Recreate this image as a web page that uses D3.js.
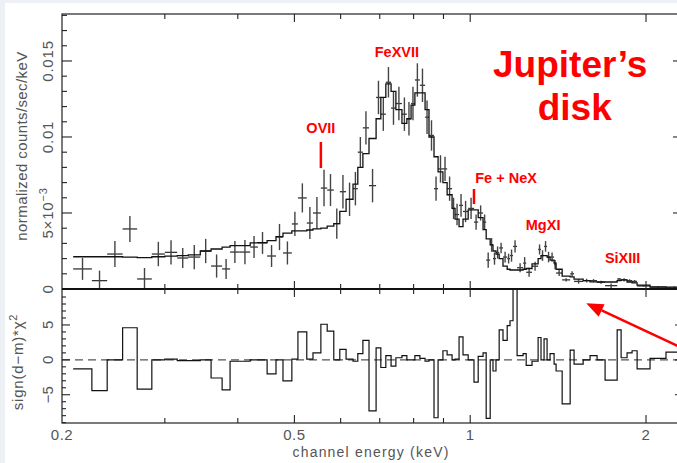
<!DOCTYPE html>
<html>
<head>
<meta charset="utf-8">
<script src="https://cdn.jsdelivr.net/npm/d3@7"></script>
<style>
body { margin: 0; background: #fff; }
text { font-family: "Liberation Sans", Arial, sans-serif; }
</style>
</head>
<body>
<script>
// channel bin edges (keV)
var binEdges = [0.209, 0.225, 0.239, 0.254, 0.269, 0.285, 0.300, 0.315, 0.329, 0.345,
  0.360, 0.376, 0.388, 0.403, 0.420, 0.433, 0.449, 0.465, 0.478, 0.495,
  0.507, 0.525, 0.538, 0.555, 0.569, 0.584, 0.598, 0.613, 0.630, 0.642,
  0.655, 0.671, 0.690, 0.703, 0.717, 0.732, 0.746, 0.764, 0.779, 0.792,
  0.804, 0.820, 0.837, 0.850, 0.867, 0.881, 0.898, 0.913, 0.931, 0.942,
  0.957, 0.972, 0.992, 1.015, 1.032, 1.052, 1.065, 1.082, 1.094, 1.107,
  1.121, 1.138, 1.157, 1.170, 1.184, 1.203, 1.232, 1.247, 1.276, 1.307,
  1.322, 1.338, 1.354, 1.370, 1.392, 1.403, 1.437, 1.483, 1.506, 1.561,
  1.604, 1.649, 1.702, 1.785, 1.813, 1.856, 1.893, 1.931, 2.032, 2.164, 2.314];

// normalized counts/sec/keV, in units of 1e-3
var rate = [1.32, 0.55, 2.30, 3.95, 0.66, 2.30, 2.41, 2.04, 2.10, 2.50,
  1.51, 1.32, 2.43, 2.43, 2.76, 3.03, 2.17, 3.42, 2.37, 4.28,
  5.99, 4.34, 5.00, 6.64, 6.51, 4.30, 6.40, 5.90, 6.60, 9.00,
  10.6, 6.80, 12.6, 11.5, 13.6, 11.9, 12.2, 11.5, 11.2, 12.2,
  13.75, 13.4, 11.3, 10.1, 6.6, 7.9, 7.9, 6.6, 5.3, 4.9,
  5.5, 5.1, 5.3, 4.4, 5.0, 4.4, 1.9, 2.9, 2.0, 2.4,
  2.7, 2.1, 2.0, 2.2, 2.8, 1.4, 1.7, 1.1, 1.5, 2.6,
  2.2, 2.8, 2.1, 2.1, 1.6, 1.05, 0.6, 1.0, 0.5, 0.55,
  0.55, 0.45, 0.22, 0.66, 0.6, 0.55, 0.5, 0.2, 0.14, 0.13];

var rateErr = [0.72, 0.66, 0.86, 0.86, 0.72, 0.80, 0.80, 0.66, 0.80, 0.80,
  0.76, 0.66, 0.72, 0.80, 0.72, 0.72, 0.72, 0.86, 0.76, 0.80,
  0.96, 1.05, 1.05, 1.20, 1.05, 1.00, 1.10, 1.10, 1.10, 1.00,
  1.10, 1.10, 1.10, 1.10, 1.00, 1.10, 1.10, 1.10, 1.10, 1.10,
  1.10, 1.10, 1.10, 1.00, 0.80, 0.90, 0.80, 0.80, 0.70, 0.70,
  0.75, 0.70, 0.70, 0.50, 0.50, 0.50, 0.50, 0.45, 0.40, 0.40,
  0.35, 0.35, 0.32, 0.40, 0.40, 0.30, 0.40, 0.30, 0.30, 0.33,
  0.35, 0.35, 0.35, 0.30, 0.30, 0.20, 0.10, 0.17, 0.15, 0.12,
  0.10, 0.10, 0.15, 0.06, 0.10, 0.09, 0.09, 0.05, 0.05, 0.05];

var model = [2.12, 2.12, 2.12, 2.10, 2.06, 2.12, 2.16, 2.20, 2.24, 2.50,
  2.63, 2.76, 2.85, 2.85, 3.03, 3.05, 3.18, 3.44, 3.68, 3.82,
  3.82, 3.88, 3.95, 4.01, 4.14, 4.30, 5.10, 5.90, 6.90, 8.00,
  8.90, 9.90, 11.2, 12.6, 13.5, 13.0, 11.8, 10.9, 11.2, 12.1,
  12.9, 12.9, 11.8, 10.0, 8.7, 7.7, 7.0, 6.2, 5.3, 4.6,
  4.1, 4.6, 5.2, 5.2, 4.7, 3.9, 3.3, 2.9, 2.5, 2.3,
  2.0, 1.5, 1.3, 1.25, 1.25, 1.25, 1.30, 1.35, 1.65, 2.00,
  2.20, 2.20, 2.10, 1.90, 1.70, 1.30, 0.85, 0.80, 0.65, 0.55,
  0.47, 0.46, 0.46, 0.55, 0.60, 0.46, 0.40, 0.25, 0.12, 0.08];

// sign(d-m)*chi^2
var resid = [-1.3, -4.4, 0, 4.6, -4.2, 0, 0.1, -0.1, -0.1, 0,
  -2.6, -4.3, -0.2, -0.2, 0, 0, -2.0, 0, -3.0, 0.1,
  4.0, 0.1, 1.0, 5.1, 4.1, 0, 1.5, 0.1, -0.2, 0.9,
  2.8, -7.3, 1.7, -1.1, 0.6, -0.9, 0.3, 0.6, 0, 0,
  0.6, 0.2, -0.2, 0, -8.3, 0, 1.3, 0.7, 0, 0.1,
  3.3, 0.7, 0, -3.2, 0.5, 1.0, -8.4, 0, -1.6, 0,
  4.3, 2.8, 4.9, 5.6, 14, 0.6, 0.9, -0.8, -0.2, 3.2,
  0, 3.0, 0, 0.9, -0.6, -1.6, -6.3, 1.4, -0.6, 0,
  0.6, 0, -2.9, 4.3, 0.3, 1.0, 1.3, -1.3, 0.2, 1.1];

var xMajor = [0.2, 0.5, 1, 2];
var xMinor = [0.3, 0.4, 0.6, 0.7, 0.8, 0.9];
var xLabels = ["0.2", "0.5", "1", "2"];
var yMajor = [0, 5, 10, 15];
var yLabels = ["0", "5×10", "0.01", "0.015"];
var rMajor = [-5, 0, 5];
var rLabels = ["−5", "0", "5"];

// line annotations: label position (energy, rate) and marker line
var lines = [
  { label: "OVII", e: 0.555, ty: 10.26, y0: 9.67, y1: 7.96 },
  { label: "FeXVII", e: 0.749, ty: 15.26 },
  { label: "Fe + NeX", e: 1.152, ty: 6.97, le: 1.015, y0: 6.58, y1: 5.59 },
  { label: "MgXI", e: 1.333, ty: 3.88 },
  { label: "SiXIII", e: 1.824, ty: 1.71 }
];

var width = 677, height = 463;
var L = 62, R = 683, T = 14, M = 289, B = 423;

var x = d3.scaleLog().domain([0.2, 2.314]).range([L, R]);
var y = d3.scaleLinear().domain([0, 18.09]).range([M, T]);
var yr = d3.scaleLinear().domain([-9.05, 10.15]).range([B, M]);

var svg = d3.select("body").append("svg")
  .attr("width", width)
  .attr("height", height);

svg.append("rect").attr("width", width).attr("height", height).attr("fill", "#edf1f6");
svg.append("rect").attr("x", 5).attr("y", 3).attr("width", width).attr("height", height).attr("fill", "#fff");

var defs = svg.append("defs");
defs.append("clipPath").attr("id", "clipTop").append("rect")
  .attr("x", L).attr("y", T).attr("width", R - L).attr("height", M - T);
defs.append("clipPath").attr("id", "clipBot").append("rect")
  .attr("x", L).attr("y", M).attr("width", R - L).attr("height", B - M);

var ink = "#222";

// ---- top panel: data crosses and model
var bins = rate.map(function (v, i) {
  return { lo: binEdges[i], hi: binEdges[i + 1], v: v, err: rateErr[i], m: model[i], r: resid[i] };
});

var topG = svg.append("g").attr("clip-path", "url(#clipTop)");

topG.selectAll(".hbar").data(bins).enter().append("line")
  .attr("x1", function (d) { return x(d.lo); })
  .attr("x2", function (d) { return x(d.hi); })
  .attr("y1", function (d) { return y(d.v); })
  .attr("y2", function (d) { return y(d.v); })
  .attr("stroke", "#333").attr("stroke-width", 1.3);

topG.selectAll(".vbar").data(bins).enter().append("line")
  .attr("x1", function (d) { return x(Math.sqrt(d.lo * d.hi)); })
  .attr("x2", function (d) { return x(Math.sqrt(d.lo * d.hi)); })
  .attr("y1", function (d) { return y(d.v - d.err); })
  .attr("y2", function (d) { return y(d.v + d.err); })
  .attr("stroke", "#444").attr("stroke-width", 1.4);

var stepTop = d3.line()
  .x(function (d) { return x(d[0]); })
  .y(function (d) { return y(d[1]); })
  .curve(d3.curveStepAfter);

var modelPts = bins.map(function (d) { return [d.lo, d.m]; });
modelPts.push([bins[bins.length - 1].hi, bins[bins.length - 1].m]);

topG.append("path").attr("d", stepTop(modelPts))
  .attr("fill", "none").attr("stroke", "#111").attr("stroke-width", 1.3);

// ---- bottom panel: residuals
var botG = svg.append("g").attr("clip-path", "url(#clipBot)");

botG.append("line")
  .attr("x1", L).attr("x2", R).attr("y1", yr(0)).attr("y2", yr(0))
  .attr("stroke", "#555").attr("stroke-width", 1.3).attr("stroke-dasharray", "8,5");

var stepRes = d3.line()
  .x(function (d) { return x(d[0]); })
  .y(function (d) { return yr(d[1]); })
  .curve(d3.curveStepAfter);

var resPts = bins.map(function (d) { return [d.lo, d.r]; });
resPts.push([bins[bins.length - 1].hi, bins[bins.length - 1].r]);

botG.append("path").attr("d", stepRes(resPts))
  .attr("fill", "none").attr("stroke", "#111").attr("stroke-width", 1.2);

// ---- frames and ticks
svg.append("rect").attr("x", L).attr("y", T).attr("width", R - L).attr("height", B - T)
  .attr("fill", "none").attr("stroke", ink).attr("stroke-width", 1.2);
svg.append("line").attr("x1", L).attr("x2", R).attr("y1", M).attr("y2", M)
  .attr("stroke", "#111").attr("stroke-width", 2.2);

var ticks = svg.append("g").attr("stroke", ink).attr("stroke-width", 1.1);

function xTicks(vals, len) {
  [[T, 1], [M, -1], [M, 1], [B, -1]].forEach(function (p) {
    ticks.selectAll(null).data(vals).enter().append("line")
      .attr("x1", function (d) { return x(d); })
      .attr("x2", function (d) { return x(d); })
      .attr("y1", p[0]).attr("y2", p[0] + p[1] * len);
  });
}
xTicks(xMajor.slice(1), 8);
xTicks(xMinor, 5);

function yTicks(scale, vals, len) {
  ticks.selectAll(null).data(vals).enter().append("line")
    .attr("x1", L).attr("x2", L + len)
    .attr("y1", function (d) { return scale(d); })
    .attr("y2", function (d) { return scale(d); });
  ticks.selectAll(null).data(vals).enter().append("line")
    .attr("x1", R).attr("x2", R - len)
    .attr("y1", function (d) { return scale(d); })
    .attr("y2", function (d) { return scale(d); });
}
yTicks(y, yMajor.slice(1), 10);
yTicks(y, d3.range(1, 19).filter(function (v) { return v % 5 !== 0; }), 5);
yTicks(yr, rMajor, 8);
yTicks(yr, d3.range(-9, 11).filter(function (v) { return v % 5 !== 0; }), 4);

// ---- tick labels and axis titles
var lab = svg.append("g").attr("fill", "#555").attr("font-size", 15);

lab.selectAll(null).data(xMajor).enter().append("text")
  .attr("x", function (d) { return x(d); })
  .attr("y", 440)
  .attr("text-anchor", "middle")
  .attr("letter-spacing", 0.5)
  .text(function (d, i) { return xLabels[i]; });

lab.append("text").attr("x", 371).attr("y", 457).attr("text-anchor", "middle")
  .attr("font-size", 14).attr("letter-spacing", 1.2)
  .text("channel energy (keV)");

var yl = lab.selectAll(null).data(yMajor).enter().append("text")
  .attr("transform", function (d) { return "translate(53," + y(d) + ") rotate(-90)"; })
  .attr("text-anchor", "middle")
  .attr("letter-spacing", 0.8)
  .text(function (d, i) { return yLabels[i]; });
yl.filter(function (d) { return d === 5; }).append("tspan")
  .attr("dy", -6).attr("font-size", 11).text("−3");

lab.selectAll(null).data(rMajor).enter().append("text")
  .attr("transform", function (d) { return "translate(53," + yr(d) + ") rotate(-90)"; })
  .attr("text-anchor", "middle")
  .text(function (d, i) { return rLabels[i]; });

lab.append("text").attr("transform", "translate(27,146) rotate(-90)")
  .attr("text-anchor", "middle").attr("letter-spacing", 0.4)
  .text("normalized counts/sec/keV");

var rt = lab.append("text").attr("transform", "translate(23,362) rotate(-90)")
  .attr("text-anchor", "middle").attr("letter-spacing", 0.8)
  .text("sign(d−m)*χ");
rt.append("tspan").attr("dy", -6).attr("font-size", 11).text("2");

// ---- red annotations
var red = "#f00";
var ann = svg.append("g").attr("fill", red).attr("font-weight", "bold");

ann.selectAll(null).data(lines).enter().append("text")
  .attr("x", function (d) { return x(d.e); })
  .attr("y", function (d) { return y(d.ty); })
  .attr("text-anchor", "middle")
  .attr("font-size", 14.5)
  .text(function (d) { return d.label; });

ann.selectAll(null).data(lines.filter(function (d) { return d.y0 !== undefined; })).enter().append("line")
  .attr("x1", function (d) { return x(d.le || d.e); })
  .attr("x2", function (d) { return x(d.le || d.e); })
  .attr("y1", function (d) { return y(d.y0); })
  .attr("y2", function (d) { return y(d.y1); })
  .attr("stroke", red).attr("stroke-width", 2.5);

ann.append("text").attr("x", x(1.483)).attr("y", y(13.95))
  .attr("text-anchor", "middle").attr("font-size", 37).text("Jupiter’s");
ann.append("text").attr("x", x(1.51)).attr("y", y(11.12))
  .attr("text-anchor", "middle").attr("font-size", 37).text("disk");

// arrow pointing at the residual panel
var tail = [x(2.32), yr(1.6)], tip = [x(1.58), yr(8.1)];
var ang = Math.atan2(tip[1] - tail[1], tip[0] - tail[0]);
var hl = 17, hw = 7;
var base = [tip[0] - hl * Math.cos(ang), tip[1] - hl * Math.sin(ang)];
svg.append("line")
  .attr("x1", tail[0]).attr("y1", tail[1]).attr("x2", base[0]).attr("y2", base[1])
  .attr("stroke", red).attr("stroke-width", 2.5);
svg.append("path")
  .attr("d", "M" + tip + "L" + [base[0] + hw * Math.sin(ang), base[1] - hw * Math.cos(ang)] +
    "L" + [base[0] - hw * Math.sin(ang), base[1] + hw * Math.cos(ang)] + "Z")
  .attr("fill", red);
</script>
</body>
</html>
